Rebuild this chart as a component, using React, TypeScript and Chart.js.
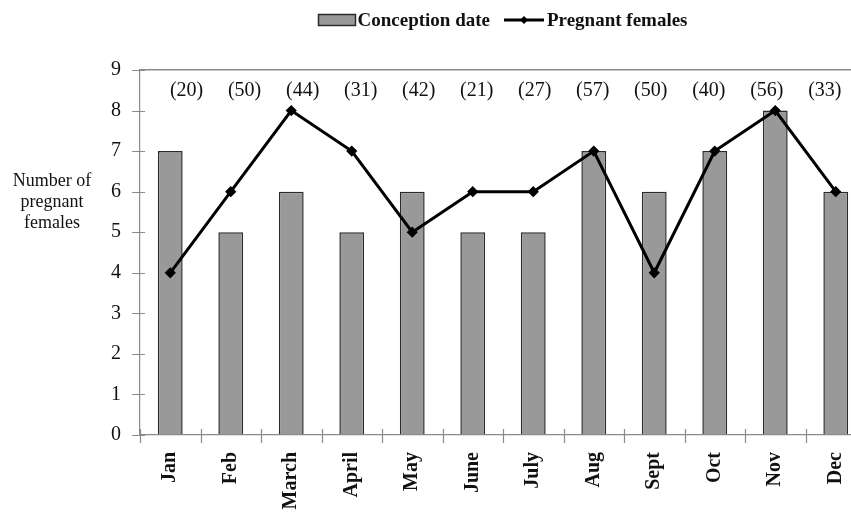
import React, { useEffect, useRef } from "react";
import { Chart, registerables } from "chart.js";

Chart.register(...registerables);

const months = ["Jan", "Feb", "March", "April", "May", "June", "July", "Aug", "Sept", "Oct", "Nov", "Dec"];
const conceptionDate = [7, 5, 6, 5, 6, 5, 5, 7, 6, 7, 8, 6];
const pregnantFemales = [4, 6, 8, 7, 5, 6, 6, 7, 4, 7, 8, 6];
const sampleSizes = ["(20)", "(50)", "(44)", "(31)", "(42)", "(21)", "(27)", "(57)", "(50)", "(40)", "(56)", "(33)"];
const yTitleLines = ["Number of", "pregnant", "females"];
const legendLabels = ["Conception date", "Pregnant females"];

const SERIF = "'Liberation Serif', 'Times New Roman', serif";
const AXIS = "#8a8a8a";
const BAR_FILL = "#999999";
const BAR_EDGE = "#2a2a2a";
const TEXT = "#111111";

const decor = {
  id: "decor",
  afterDraw(chart: any) {
    const { ctx, chartArea: a, scales } = chart;
    const xs = scales.x;
    const ys = scales.y;
    ctx.save();

    // tick marks
    ctx.strokeStyle = AXIS;
    ctx.lineWidth = 1.2;
    ctx.beginPath();
    for (let v = 0; v <= 9; v++) {
      const py = Math.round(ys.getPixelForValue(v)) + 0.5;
      ctx.moveTo(a.left - 8, py);
      ctx.lineTo(a.left + 5, py);
    }
    const c0 = xs.getPixelForValue(0);
    const step = xs.getPixelForValue(1) - c0;
    for (let i = 0; i <= months.length; i++) {
      const px = Math.round(c0 - step / 2 + i * step) + 0.5;
      ctx.moveTo(px, a.bottom - 6);
      ctx.lineTo(px, a.bottom + 8);
    }
    ctx.stroke();

    // sample size annotations
    ctx.fillStyle = TEXT;
    ctx.font = `20px ${SERIF}`;
    ctx.textAlign = "center";
    ctx.textBaseline = "middle";
    const cLast = xs.getPixelForValue(months.length - 1);
    const labStart = c0 + step * 0.27;
    const labEnd = cLast - step * 0.18;
    const labY = ys.getPixelForValue(8.5);
    sampleSizes.forEach((s, i) => {
      ctx.fillText(s, labStart + ((labEnd - labStart) * i) / (sampleSizes.length - 1), labY);
    });

    // y axis title (horizontal, 3 lines)
    ctx.font = `18px ${SERIF}`;
    const tY = ys.getPixelForValue(5.75);
    yTitleLines.forEach((t, i) => {
      ctx.fillText(t, a.left - 88, tY + (i - 1) * 21);
    });

    // legend
    ctx.font = `bold 19px ${SERIF}`;
    const w1 = ctx.measureText(legendLabels[0]).width;
    const w2 = ctx.measureText(legendLabels[1]).width;
    const boxW = 37, lineW = 40;
    const total = boxW + 2 + w1 + 14 + lineW + 3 + w2;
    let lx = (a.left + a.right) / 2 - total / 2;
    const ly = 20;
    ctx.fillStyle = BAR_FILL;
    ctx.strokeStyle = BAR_EDGE;
    ctx.lineWidth = 1.5;
    ctx.fillRect(lx, ly - 5.5, boxW, 11);
    ctx.strokeRect(lx, ly - 5.5, boxW, 11);
    lx += boxW + 2;
    ctx.fillStyle = TEXT;
    ctx.textAlign = "left";
    ctx.fillText(legendLabels[0], lx, ly + 1);
    lx += w1 + 14;
    ctx.strokeStyle = "#000";
    ctx.lineWidth = 3;
    ctx.beginPath();
    ctx.moveTo(lx, ly);
    ctx.lineTo(lx + lineW, ly);
    ctx.stroke();
    ctx.fillStyle = "#000";
    ctx.beginPath();
    const mx = lx + lineW / 2;
    ctx.moveTo(mx, ly - 4);
    ctx.lineTo(mx + 4, ly);
    ctx.lineTo(mx, ly + 4);
    ctx.lineTo(mx - 4, ly);
    ctx.closePath();
    ctx.fill();
    lx += lineW + 3;
    ctx.fillStyle = TEXT;
    ctx.fillText(legendLabels[1], lx, ly + 1);

    ctx.restore();
  },
};

export default function App() {
  const ref = useRef<HTMLCanvasElement | null>(null);

  useEffect(() => {
    if (!ref.current) return;
    const chart = new Chart(ref.current, {
      type: "bar",
      data: {
        labels: months,
        datasets: [
          {
            type: "line",
            label: legendLabels[1],
            data: pregnantFemales,
            borderColor: "#000",
            borderWidth: 3,
            pointStyle: "rectRot",
            pointRadius: 3.5,
            pointBackgroundColor: "#000",
            pointBorderColor: "#000",
            tension: 0,
            order: 0,
          } as any,
          {
            type: "bar",
            label: legendLabels[0],
            data: conceptionDate,
            backgroundColor: BAR_FILL,
            borderColor: BAR_EDGE,
            borderWidth: 1.5,
            barPercentage: 0.41,
            categoryPercentage: 1,
            order: 1,
          },
        ],
      },
      options: {
        responsive: false,
        maintainAspectRatio: false,
        devicePixelRatio: 1,
        animation: false,
        layout: { padding: { top: 70, right: 14, left: 0, bottom: 0 } },
        plugins: {
          legend: { display: false },
          tooltip: { enabled: false },
        },
        scales: {
          x: {
            offset: true,
            grid: { display: false, drawTicks: false },
            border: { display: true, color: AXIS, width: 1.2 },
            ticks: {
              font: { family: SERIF, size: 20, weight: "bold" },
              color: TEXT,
              maxRotation: 90,
              minRotation: 90,
              padding: 17,
              autoSkip: false,
            },
            afterFit: (s: any) => {
              s.height = 78;
            },
          },
          y: {
            min: 0,
            max: 9,
            ticks: {
              stepSize: 1,
              font: { family: SERIF, size: 20 },
              color: TEXT,
              padding: 19,
            },
            grid: {
              drawTicks: false,
              color: (c: any) => (c.tick && c.tick.value === 9 ? AXIS : "rgba(0,0,0,0)"),
              lineWidth: 1.5,
            },
            border: { display: true, color: AXIS, width: 1.2 },
            afterFit: (s: any) => {
              s.width = 140;
            },
          },
        },
      },
      plugins: [decor],
    });
    return () => chart.destroy();
  }, []);

  return (
    <div
      style={{
        position: "absolute",
        left: 0,
        top: 0,
        width: 851,
        height: 513,
        overflow: "hidden",
        background: "#fff",
      }}
    >
      <canvas ref={ref} width={880} height={513} style={{ display: "block" }} />
    </div>
  );
}
